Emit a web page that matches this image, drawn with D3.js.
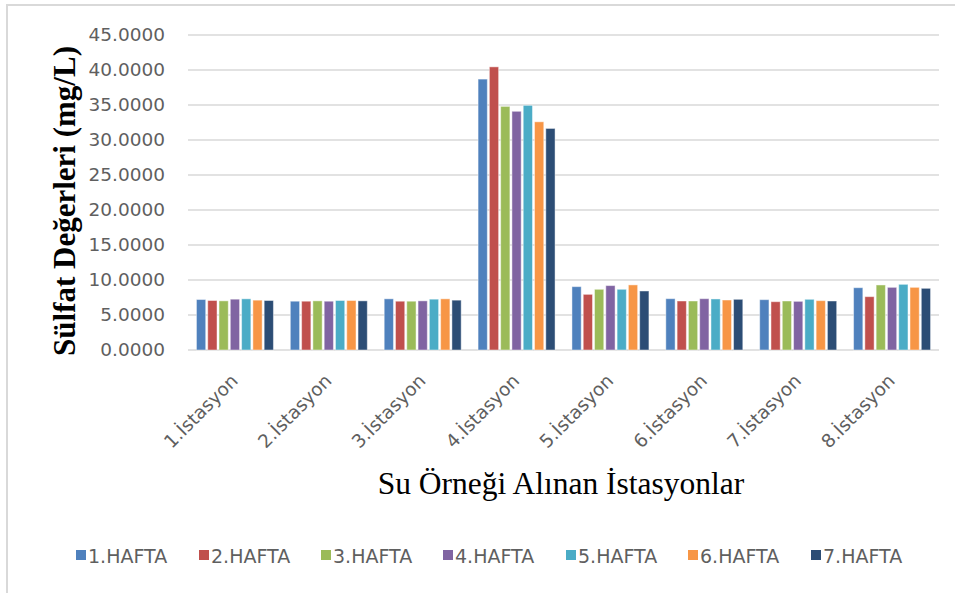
<!DOCTYPE html>
<html>
<head>
<meta charset="utf-8">
<script src="https://cdn.jsdelivr.net/npm/d3@7"></script>
<style>
  html, body { margin: 0; padding: 0; background: #fff; }
  svg { display: block; }
</style>
</head>
<body>
<svg id="chart" width="955" height="593"></svg>
<script>
const categories = ["1.İstasyon","2.İstasyon","3.İstasyon","4.İstasyon","5.İstasyon","6.İstasyon","7.İstasyon","8.İstasyon"];
const seriesNames = ["1.HAFTA","2.HAFTA","3.HAFTA","4.HAFTA","5.HAFTA","6.HAFTA","7.HAFTA"];
const hafta1 = [7.21, 6.97, 7.31, 38.70, 9.05, 7.33, 7.19, 8.90];
const hafta2 = [7.07, 6.97, 6.97, 40.45, 7.95, 7.00, 6.90, 7.62];
const hafta3 = [7.02, 7.02, 6.97, 34.80, 8.67, 7.00, 7.00, 9.29];
const hafta4 = [7.26, 6.97, 7.02, 34.10, 9.20, 7.33, 6.95, 8.95];
const hafta5 = [7.31, 7.07, 7.26, 34.95, 8.67, 7.29, 7.24, 9.38];
const hafta6 = [7.12, 7.07, 7.31, 32.60, 9.30, 7.14, 7.05, 8.95];
const hafta7 = [7.07, 7.02, 7.12, 31.65, 8.43, 7.24, 7.00, 8.81];
const yTicks = [0, 5, 10, 15, 20, 25, 30, 35, 40, 45];
const colors = ["#4F81BD","#C0504D","#9BBB59","#8064A2","#4BACC6","#F79646","#2C4D75"];
const yTitle = "Sülfat Değerleri (mg/L)";
const xTitle = "Su Örneği Alınan İstasyonlar";

const seriesValues = [hafta1, hafta2, hafta3, hafta4, hafta5, hafta6, hafta7];

const svg = d3.select("#chart");
const sans = "'DejaVu Sans', sans-serif";
const serif = "'Liberation Serif', 'Times New Roman', serif";

// outer border
svg.append("rect").attr("x", 7).attr("y", 5).attr("width", 970).attr("height", 620)
  .attr("fill", "none").attr("stroke", "#d9d9d9").attr("stroke-width", 2);

const y = d3.scaleLinear().domain([0, 45]).range([350, 35]);
const x0 = d3.scaleBand().domain(categories).range([188, 939]).paddingInner(0.18).paddingOuter(0.09);
const x1 = d3.scaleBand().domain(seriesNames).range([0, x0.bandwidth()]).paddingInner(0.18);

// gridlines
svg.append("g").selectAll("line").data(yTicks).join("line")
  .attr("x1", 188).attr("x2", 939)
  .attr("y1", d => y(d)).attr("y2", d => y(d))
  .attr("stroke", "#d9d9d9").attr("stroke-width", 1.5);

// y axis labels
const yAxis = d3.axisLeft(y).tickValues(yTicks).tickFormat(d3.format(".4f")).tickSize(0).tickPadding(0);
const yg = svg.append("g").attr("transform", "translate(165,0)").call(yAxis);
yg.select(".domain").remove();
yg.selectAll("text").attr("font-family", sans).attr("font-size", 18.5).attr("fill", "#5f5f5f");

// bars
const groups = svg.append("g").selectAll("g").data(categories).join("g")
  .attr("transform", d => `translate(${x0(d)},0)`);
groups.selectAll("rect").data((c, i) => seriesNames.map((s, j) => ({s, j, v: seriesValues[j][i]})))
  .join("rect")
  .attr("x", d => x1(d.s))
  .attr("width", x1.bandwidth())
  .attr("y", d => y(d.v))
  .attr("height", d => y(0) - y(d.v))
  .attr("fill", d => colors[d.j])
  .attr("stroke", "#ffffff").attr("stroke-opacity", 0.45).attr("stroke-width", 1);

// x category labels
const xAxis = d3.axisBottom(x0).tickSize(0).tickPadding(0);
const xg = svg.append("g").attr("transform", "translate(0,350)").call(xAxis);
xg.select(".domain").remove();
xg.selectAll("text")
  .attr("font-family", sans).attr("font-size", 18.5).attr("fill", "#5f5f5f")
  .attr("text-anchor", "end").attr("dy", 0).attr("y", 0)
  .attr("transform", "translate(4,32) rotate(-45)");

// axis titles
svg.append("text").attr("x", 561).attr("y", 494).attr("text-anchor", "middle")
  .attr("font-family", serif).attr("font-size", 31.5).attr("fill", "#000").text(xTitle);
svg.append("text").attr("transform", "translate(75,201) rotate(-90)").attr("text-anchor", "middle")
  .attr("font-family", serif).attr("font-weight", "bold").attr("font-size", 31).attr("fill", "#000").text(yTitle);

// legend
const legendX = [76, 199, 321, 443, 566, 688, 811];
const lg = svg.append("g").selectAll("g").data(seriesNames).join("g")
  .attr("transform", (d, i) => `translate(${legendX[i]},555)`);
lg.append("rect").attr("x", 0).attr("y", -5).attr("width", 10).attr("height", 10)
  .attr("fill", (d, i) => colors[i]);
lg.append("text").attr("x", 12).attr("y", 7.5).attr("font-family", sans).attr("font-size", 19)
  .attr("fill", "#5f5f5f").text(d => d);
</script>
</body>
</html>
